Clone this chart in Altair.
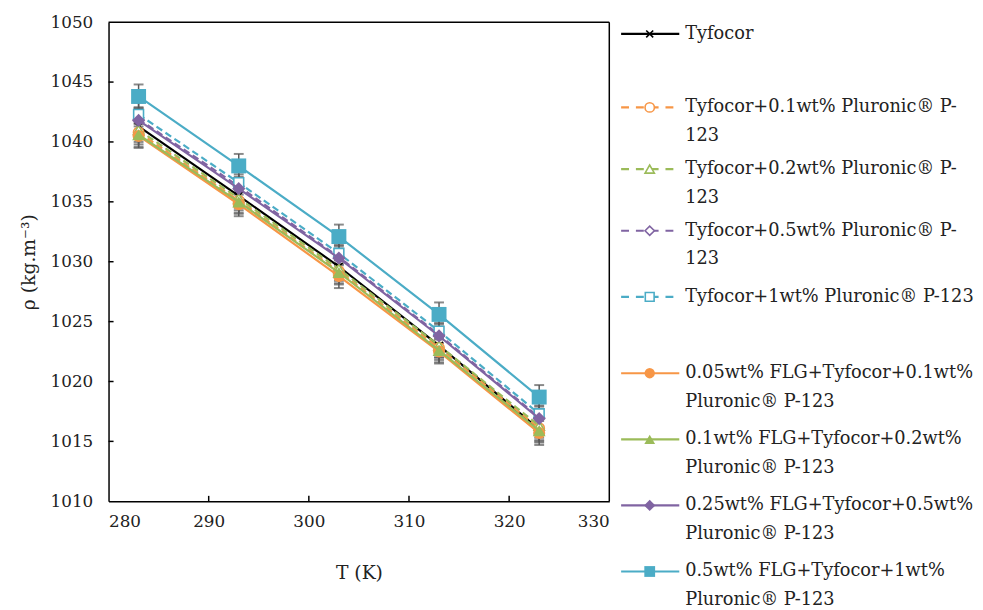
import altair as alt
import pandas as pd

T = [283, 293, 303, 313, 323]

series_names = [
    "Tyfocor",
    "Tyfocor+0.1wt% Pluronic® P-123",
    "Tyfocor+0.2wt% Pluronic® P-123",
    "Tyfocor+0.5wt% Pluronic® P-123",
    "Tyfocor+1wt% Pluronic® P-123",
    "0.05wt% FLG+Tyfocor+0.1wt% Pluronic® P-123",
    "0.1wt% FLG+Tyfocor+0.2wt% Pluronic® P-123",
    "0.25wt% FLG+Tyfocor+0.5wt% Pluronic® P-123",
    "0.5wt% FLG+Tyfocor+1wt% Pluronic® P-123",
]

rho_tyf = [1041.3, 1035.5, 1029.6, 1023.0, 1016.0]
rho_p01 = [1040.8, 1035.1, 1029.2, 1022.8, 1016.1]
rho_p02 = [1041.0, 1035.3, 1029.4, 1023.0, 1016.3]
rho_p05 = [1041.9, 1036.3, 1030.4, 1023.9, 1017.0]
rho_p1 = [1042.3, 1036.6, 1030.7, 1024.2, 1017.3]
rho_f005 = [1040.5, 1034.8, 1028.8, 1022.5, 1015.7]
rho_f01 = [1040.6, 1035.0, 1029.1, 1022.6, 1015.9]
rho_f025 = [1041.8, 1036.1, 1030.3, 1023.8, 1016.9]
rho_f05 = [1043.8, 1038.0, 1032.1, 1025.6, 1018.7]
all_rho = [rho_tyf, rho_p01, rho_p02, rho_p05, rho_p1, rho_f005, rho_f01, rho_f025, rho_f05]

rho_err = [1.0, 1.0, 1.0, 1.0, 1.0]

colors = ["#000000", "#F79646", "#9BBB59", "#8064A2", "#4BACC6",
          "#F79646", "#9BBB59", "#8064A2", "#4BACC6"]
X_PATH = "M-1,-1L1,1M-1,1L1,-1"
shapes = [X_PATH, "circle", "triangle-up", "diamond", "square",
          "circle", "triangle-up", "diamond", "square"]
filled = [False, False, False, False, False, True, True, True, True]
dashed = [False, True, True, True, True, False, False, False, False]
sizes = [60, 110, 110, 110, 100, 150, 170, 180, 230]
legend_sizes = [50, 90, 90, 90, 80, 110, 120, 130, 120]

legend_line1 = [
    "Tyfocor",
    "Tyfocor+0.1wt% Pluronic® P-",
    "Tyfocor+0.2wt% Pluronic® P-",
    "Tyfocor+0.5wt% Pluronic® P-",
    "Tyfocor+1wt% Pluronic® P-123",
    "0.05wt% FLG+Tyfocor+0.1wt%",
    "0.1wt% FLG+Tyfocor+0.2wt%",
    "0.25wt% FLG+Tyfocor+0.5wt%",
    "0.5wt% FLG+Tyfocor+1wt%",
]
legend_line2 = ["", "123", "123", "123", "", "Pluronic® P-123", "Pluronic® P-123",
                "Pluronic® P-123", "Pluronic® P-123"]
legend_slot = [0.4, 2.9, 5.0, 7.1, 9.35, 11.95, 14.2, 16.45, 18.7]

x_ticks = [280, 290, 300, 310, 320, 330]
y_ticks = [1010, 1015, 1020, 1025, 1030, 1035, 1040, 1045, 1050]

FONT = "DejaVu Serif"
GREY = "#595959"

rows = []
for name, vals in zip(series_names, all_rho):
    for t, v, e in zip(T, vals, rho_err):
        rows.append({"series": name, "T": t, "rho": v, "lo": v - e, "hi": v + e})
df = pd.DataFrame(rows)

xs = alt.Scale(domain=[280, 330], nice=False, zero=False)
ys = alt.Scale(domain=[1010, 1050], nice=False, zero=False)

xax = alt.Axis(values=x_ticks, format="d", tickSize=0, grid=False, labelFont=FONT, labelFontSize=17,
               labelColor="#222", labelPadding=13, title="T (K)", titleFont=FONT,
               titleFontSize=19, titleFontWeight="normal", titleColor="#222",
               titlePadding=34, domainColor="black", domainWidth=1.5)
yax = alt.Axis(values=y_ticks, format="d", tickSize=0, grid=False, labelFont=FONT, labelFontSize=17,
               labelColor="#222", labelPadding=16, title="ρ (kg.m⁻³)", titleFont=FONT,
               titleFontSize=19, titleFontWeight="normal", titleColor="#222",
               titlePadding=12, domainColor="black", domainWidth=1.5)

base = alt.Chart(df)

layers = []
layers.append(base.mark_rule(color=GREY, strokeWidth=1.5).encode(
    x=alt.X("T:Q", scale=xs, axis=xax), y=alt.Y("lo:Q", scale=ys, axis=yax), y2="hi:Q"))
layers.append(base.mark_tick(color=GREY, orient="horizontal", size=10, thickness=2).encode(
    x=alt.X("T:Q", scale=xs), y=alt.Y("lo:Q", scale=ys)))
layers.append(base.mark_tick(color=GREY, orient="horizontal", size=10, thickness=2).encode(
    x=alt.X("T:Q", scale=xs), y=alt.Y("hi:Q", scale=ys)))

for i, name in enumerate(series_names):
    sub = base.transform_filter(alt.datum.series == name)
    line_kw = dict(color=colors[i], strokeWidth=2.2)
    if dashed[i]:
        line_kw["strokeDash"] = [7, 4]
    layers.append(sub.mark_line(**line_kw).encode(
        x=alt.X("T:Q", scale=xs), y=alt.Y("rho:Q", scale=ys)))
    if filled[i]:
        pt = sub.mark_point(shape=shapes[i], filled=True, color=colors[i], size=sizes[i], opacity=1)
    else:
        pt = sub.mark_point(shape=shapes[i], fill="white", fillOpacity=1 if i > 0 else 0,
                            stroke=colors[i], strokeWidth=1.6, size=sizes[i], opacity=1)
    layers.append(pt.encode(x=alt.X("T:Q", scale=xs), y=alt.Y("rho:Q", scale=ys)))

# inward ticks
xt_df = pd.DataFrame({"t": x_ticks[1:-1], "y0": [1010.0] * 4, "y1": [1010.45] * 4})
yt_df = pd.DataFrame({"v": y_ticks[1:-1], "x0": [280.0] * 7, "x1": [280.5] * 7})
layers.append(alt.Chart(xt_df).mark_rule(color="black", strokeWidth=1.5).encode(
    x=alt.X("t:Q", scale=xs), y=alt.Y("y0:Q", scale=ys), y2="y1:Q"))
layers.append(alt.Chart(yt_df).mark_rule(color="black", strokeWidth=1.5).encode(
    y=alt.Y("v:Q", scale=ys), x=alt.X("x0:Q", scale=xs), x2="x1:Q"))

# top and right border of the plot box
top_df = pd.DataFrame({"x0": [280.0], "x1": [330.0], "y0": [1050.0]})
right_df = pd.DataFrame({"x0": [330.0], "y0": [1010.0], "y1": [1050.0]})
layers.append(alt.Chart(top_df).mark_rule(color="black", strokeWidth=1.5).encode(
    x=alt.X("x0:Q", scale=xs), x2="x1:Q", y=alt.Y("y0:Q", scale=ys)))
layers.append(alt.Chart(right_df).mark_rule(color="black", strokeWidth=1.5).encode(
    x=alt.X("x0:Q", scale=xs), y=alt.Y("y0:Q", scale=ys), y2="y1:Q"))

plot = alt.layer(*layers).properties(width=508, height=486)

# custom legend
lx = alt.Scale(domain=[0, 350], nice=False, zero=False)
ly = alt.Scale(domain=[0, 20], reverse=True, nice=False, zero=False)
leg_layers = []
for i in range(len(series_names)):
    ldf = pd.DataFrame({"slot": [legend_slot[i]], "x0": [0], "x1": [59], "xm": [29]})
    lc = alt.Chart(ldf)
    kw = dict(color=colors[i], strokeWidth=2.2)
    if dashed[i]:
        kw["strokeDash"] = [8, 7]
    leg_layers.append(lc.mark_rule(**kw).encode(
        x=alt.X("x0:Q", scale=lx, axis=None), x2="x1:Q",
        y=alt.Y("slot:Q", scale=ly, axis=None)))
    if filled[i]:
        pt = lc.mark_point(shape=shapes[i], filled=True, color=colors[i],
                           size=legend_sizes[i], opacity=1)
    else:
        pt = lc.mark_point(shape=shapes[i], fill="white", fillOpacity=1 if i > 0 else 0,
                           stroke=colors[i], strokeWidth=1.6, size=legend_sizes[i], opacity=1)
    leg_layers.append(pt.encode(x=alt.X("xm:Q", scale=lx, axis=None),
                                y=alt.Y("slot:Q", scale=ly, axis=None)))

txt_rows = []
for i in range(len(series_names)):
    txt_rows.append({"label": legend_line1[i], "slot": legend_slot[i], "xt": 65})
    if legend_line2[i]:
        txt_rows.append({"label": legend_line2[i], "slot": legend_slot[i] + 0.98, "xt": 65})
tdf = pd.DataFrame(txt_rows)
leg_layers.append(alt.Chart(tdf).mark_text(
    align="left", baseline="middle", font=FONT, fontSize=18, color="#222").encode(
    x=alt.X("xt:Q", scale=lx, axis=None), y=alt.Y("slot:Q", scale=ly, axis=None),
    text="label:N"))

legend = alt.layer(*leg_layers).properties(width=350, height=596)

chart = alt.hconcat(plot, legend, spacing=12, bounds="flush").properties(
    padding={"left": 11, "top": 0, "right": 0, "bottom": 0}
).configure_view(stroke="transparent")

chart.save("out.html", embed_options={"renderer": "svg", "actions": False})
